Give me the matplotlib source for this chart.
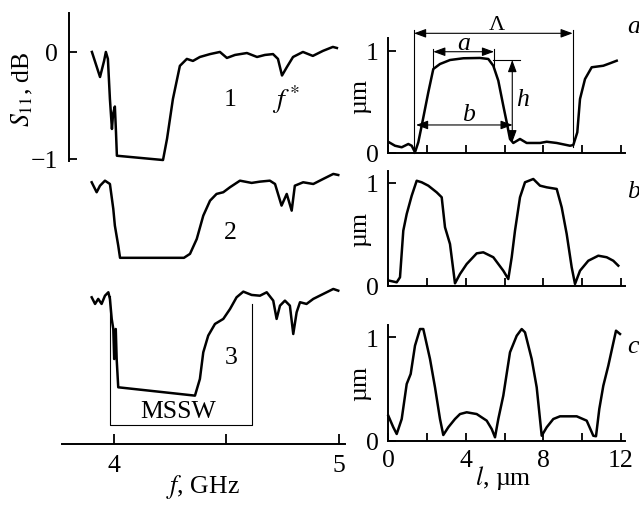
import matplotlib.pyplot as plt

plt.rcParams['font.family'] = ['Liberation Serif', 'DejaVu Serif']
plt.rcParams['mathtext.fontset'] = 'stix'
plt.rcParams['font.size'] = 18.5

# S11 spectra, GHz / dB (each relative to its own zero level)
f1 = [3.902, 3.938, 3.956, 3.964, 3.973, 3.982, 3.991, 3.996, 4.004, 4.009, 4.013,
      4.218, 4.236, 4.262, 4.293, 4.324, 4.351, 4.382, 4.427, 4.471, 4.502, 4.538,
      4.591, 4.636, 4.671, 4.707, 4.729, 4.747, 4.769, 4.796, 4.84, 4.884, 4.929,
      4.973, 4.991]
s1 = [0.0, -0.234, -0.084, 0.0, -0.065, -0.44, -0.72, -0.58, -0.51, -0.75, -0.97,
      -1.01, -0.81, -0.44, -0.13, -0.065, -0.084, -0.047, -0.02, 0.0, -0.056, -0.028,
      -0.01, -0.047, -0.028, -0.02, -0.065, -0.22, -0.14, -0.047, 0.0, -0.037, 0.01,
      0.047, 0.037]
f2 = [3.901, 3.923, 3.938, 3.96, 3.982, 3.997, 4.004, 4.019, 4.027, 4.311, 4.338,
      4.368, 4.397, 4.427, 4.456, 4.486, 4.516, 4.56, 4.612, 4.649, 4.693, 4.716,
      4.745, 4.768, 4.79, 4.804, 4.841, 4.886, 4.93, 4.975, 4.997]
s2 = [0.032, -0.061, 0.0, 0.047, 0.016, -0.217, -0.373, -0.56, -0.674, -0.674, -0.637,
      -0.498, -0.28, -0.14, -0.077, -0.061, -0.014, 0.047, 0.026, 0.038, 0.047, 0.016,
      -0.186, -0.077, -0.233, 0.0, 0.032, 0.016, 0.063, 0.11, 0.1]
f3 = [3.901, 3.916, 3.93, 3.945, 3.96, 3.975, 3.982, 3.99, 3.997, 4.001, 4.008, 4.012,
      4.019, 4.36, 4.382, 4.397, 4.419, 4.449, 4.486, 4.516, 4.545, 4.575, 4.612,
      4.649, 4.679, 4.708, 4.723, 4.738, 4.76, 4.782, 4.797, 4.812, 4.827, 4.856,
      4.886, 4.93, 4.975, 4.997]
s3 = [-0.043, -0.105, -0.058, -0.105, -0.028, 0.004, -0.058, -0.245, -0.339, -0.62,
      -0.339, -0.62, -0.884, -0.962, -0.806, -0.557, -0.401, -0.292, -0.245, -0.152,
      -0.043, 0.01, -0.021, -0.028, 0.004, -0.074, -0.245, -0.121, -0.074, -0.121,
      -0.386, -0.183, -0.089, -0.105, -0.058, -0.012, 0.035, 0.019]
curve_names = ['1', '2', '3']
curve_shift = [0.0, -1.25, -2.25]

# surface profiles, um
la = [0.036, 0.346, 0.692, 1.033, 1.208, 1.378, 1.549, 1.724, 2.065, 2.323, 2.669,
      3.185, 3.872, 4.734, 5.163, 5.421, 5.679, 5.937, 6.113, 6.283, 6.453, 6.799,
      7.145, 7.832, 8.178, 8.694, 9.38, 9.551, 9.757, 9.897, 10.155, 10.501, 11.1,
      11.446, 11.792]
za = [0.105, 0.071, 0.056, 0.088, 0.071, 0.007, 0.105, 0.267, 0.593, 0.821, 0.87,
      0.909, 0.926, 0.929, 0.919, 0.853, 0.707, 0.462, 0.3, 0.137, 0.098, 0.137,
      0.098, 0.098, 0.11, 0.098, 0.071, 0.078, 0.202, 0.528, 0.723, 0.838, 0.853,
      0.877, 0.902]
lb = [0.052, 0.434, 0.604, 0.774, 0.95, 1.208, 1.466, 1.724, 2.065, 2.499, 2.757,
      2.927, 3.185, 3.443, 3.702, 4.047, 4.564, 4.904, 5.421, 5.937, 6.195, 6.371,
      6.541, 6.799, 7.057, 7.486, 7.832, 8.178, 8.694, 8.952, 9.21, 9.468, 9.639,
      9.897, 10.325, 10.841, 11.275, 11.616, 11.874]
zb = [0.049, 0.033, 0.082, 0.536, 0.698, 0.876, 1.022, 1.007, 0.974, 0.909, 0.861,
      0.569, 0.406, 0.023, 0.114, 0.211, 0.315, 0.325, 0.277, 0.146, 0.065, 0.277,
      0.536, 0.861, 1.007, 1.039, 0.974, 0.958, 0.942, 0.763, 0.503, 0.179, 0.017,
      0.146, 0.243, 0.292, 0.277, 0.243, 0.195]
lc = [0.0, 0.258, 0.434, 0.692, 0.95, 1.156, 1.378, 1.637, 1.807, 2.153, 2.411,
      2.669, 2.839, 3.098, 3.443, 3.702, 4.047, 4.564, 5.08, 5.338, 5.509, 5.679,
      5.937, 6.283, 6.629, 6.887, 7.057, 7.403, 7.661, 7.92, 8.178, 8.518, 8.864,
      9.726, 10.242, 10.583, 10.723, 10.893, 11.1, 11.358, 11.585, 11.756, 11.962]
zc = [0.242, 0.13, 0.065, 0.21, 0.549, 0.646, 0.92, 1.081, 1.081, 0.791, 0.517,
      0.21, 0.055, 0.13, 0.21, 0.258, 0.275, 0.258, 0.194, 0.113, 0.033, 0.21,
      0.436, 0.856, 1.016, 1.081, 1.049, 0.791, 0.517, 0.048, 0.13, 0.21, 0.236,
      0.236, 0.194, 0.048, 0.043, 0.307, 0.532, 0.726, 0.92, 1.065, 1.033]
panel_names = ['a', 'b', 'c']

W, H = 639, 506
fig = plt.figure(figsize=(W / 100, H / 100), dpi=100)
lw = 1.8

# ---- left: S11 spectra
ax = fig.add_axes([62 / W, 61 / H, 283 / W, 431 / H])
for f, s, name, sh in zip([f1, f2, f3], [s1, s2, s3], curve_names, curve_shift):
    ax.plot(f, [v + sh for v in s], color='black', lw=lw, solid_joinstyle='round')
ax.set_xlim(3.769, 5.027)
ax.set_ylim(-3.664, 0.364)
for sp in ['top', 'right']:
    ax.spines[sp].set_visible(False)
ax.spines['left'].set_position(('data', 3.8))
ax.spines['left'].set_bounds(-1.02, 0.364)
ax.spines['left'].set_linewidth(1.4)
ax.spines['bottom'].set_linewidth(1.4)
ax.set_yticks([0, -1], ['0', '\u22121'])
ax.set_xticks([4, 4.5, 5], ['4', '', '5'])
ax.tick_params(axis='y', direction='in', length=6, width=1.3, pad=8)
ax.tick_params(axis='x', direction='in', length=7, width=1.3, pad=7)

ax.text(4.516, -0.44, '1', ha='center', va='center')
ax.text(4.765, -0.44, '$f^*$', ha='center', va='center', fontsize=20)
ax.text(4.516, -1.68, '2', ha='center', va='center')
ax.text(4.523, -2.85, '3', ha='center', va='center')
ax.plot([3.982, 3.982, 4.612, 4.612], [-2.28, -3.49, -3.49, -2.355], color='black', lw=0.8)
ax.text(4.284, -3.355, 'MSSW', ha='center', va='center')
ax.text(3.591, -0.34, '$S_{11}$, dB', rotation=90, ha='center', va='center', clip_on=False)
ax.text(4.396, -4.06, '$f$, GHz', ha='center', va='center', clip_on=False)

# ---- right: profiles
px_um = 19.37
right_axes = [(154, 102.3), (286.7, 102.7), (441.7, 103.3)]
ymax = 1.12
label_y = [1.244, 0.925, 0.92]
axes = []
for (bot, scale), l, z, name, ly in zip(right_axes, [la, lb, lc], [za, zb, zc], panel_names, label_y):
    a = fig.add_axes([388.3 / W, (H - bot) / H, 12.2 * px_um / W, ymax * scale / H])
    a.plot(l, z, color='black', lw=lw, solid_joinstyle='round', clip_on=False)
    a.set_xlim(0, 12.2)
    a.set_ylim(0, ymax)
    for sp in ['top', 'right']:
        a.spines[sp].set_visible(False)
    a.spines['left'].set_linewidth(1.4)
    a.spines['bottom'].set_linewidth(1.4)
    a.set_yticks([0, 1], ['0', '1'])
    a.set_xticks([0, 4, 8, 12])
    a.set_xticks([2, 6, 10], minor=True)
    a.tick_params(axis='y', direction='in', length=6, width=1.3, pad=7)
    a.tick_params(axis='x', which='both', direction='in', length=6, width=1.3, pad=6)
    if name != 'c':
        a.set_xticklabels([])
    a.text(-0.12, 0.5, '\u00b5m', transform=a.transAxes, rotation=90, ha='center', va='center')
    a.text(12.65, ly, name, style='italic', ha='center', va='center', clip_on=False)
    axes.append(a)

axes[2].text(5.92, -0.351, '$l$, \u00b5m', ha='center', va='center', clip_on=False)

# dimension marks on panel a
aa = axes[0]
thin = dict(color='black', lw=0.8, clip_on=False)
arrow = dict(arrowstyle='<|-|>,head_length=0.6,head_width=0.22', color='black', lw=0.8,
             shrinkA=0, shrinkB=0, mutation_scale=12)
aa.plot([1.327, 1.327], [0.0, 1.205], **thin)
aa.plot([9.52, 9.52], [0.056, 1.205], **thin)
aa.annotate('', xy=(1.327, 1.17), xytext=(9.52, 1.17), arrowprops=arrow, annotation_clip=False)
aa.text(5.6, 1.26, '\u039b', ha='center', va='center', fontsize=16)
aa.plot([2.32, 2.32], [0.838, 1.017], **thin)
aa.plot([5.46, 5.46], [0.853, 1.017], **thin)
aa.annotate('', xy=(2.32, 0.99), xytext=(5.46, 0.99), arrowprops=arrow, annotation_clip=False)
aa.text(3.91, 1.08, 'a', style='italic', ha='center', va='center')
aa.plot([5.42, 6.8], [0.909, 0.909], **thin)
aa.annotate('', xy=(6.4, 0.909), xytext=(6.4, 0.105), arrowprops=arrow, annotation_clip=False)
aa.text(6.94, 0.528, 'h', style='italic', ha='center', va='center')
aa.annotate('', xy=(1.43, 0.274), xytext=(6.42, 0.274), arrowprops=arrow, annotation_clip=False)
aa.text(4.13, 0.38, 'b', style='italic', ha='center', va='center')

fig.savefig('out.png', dpi=100)
